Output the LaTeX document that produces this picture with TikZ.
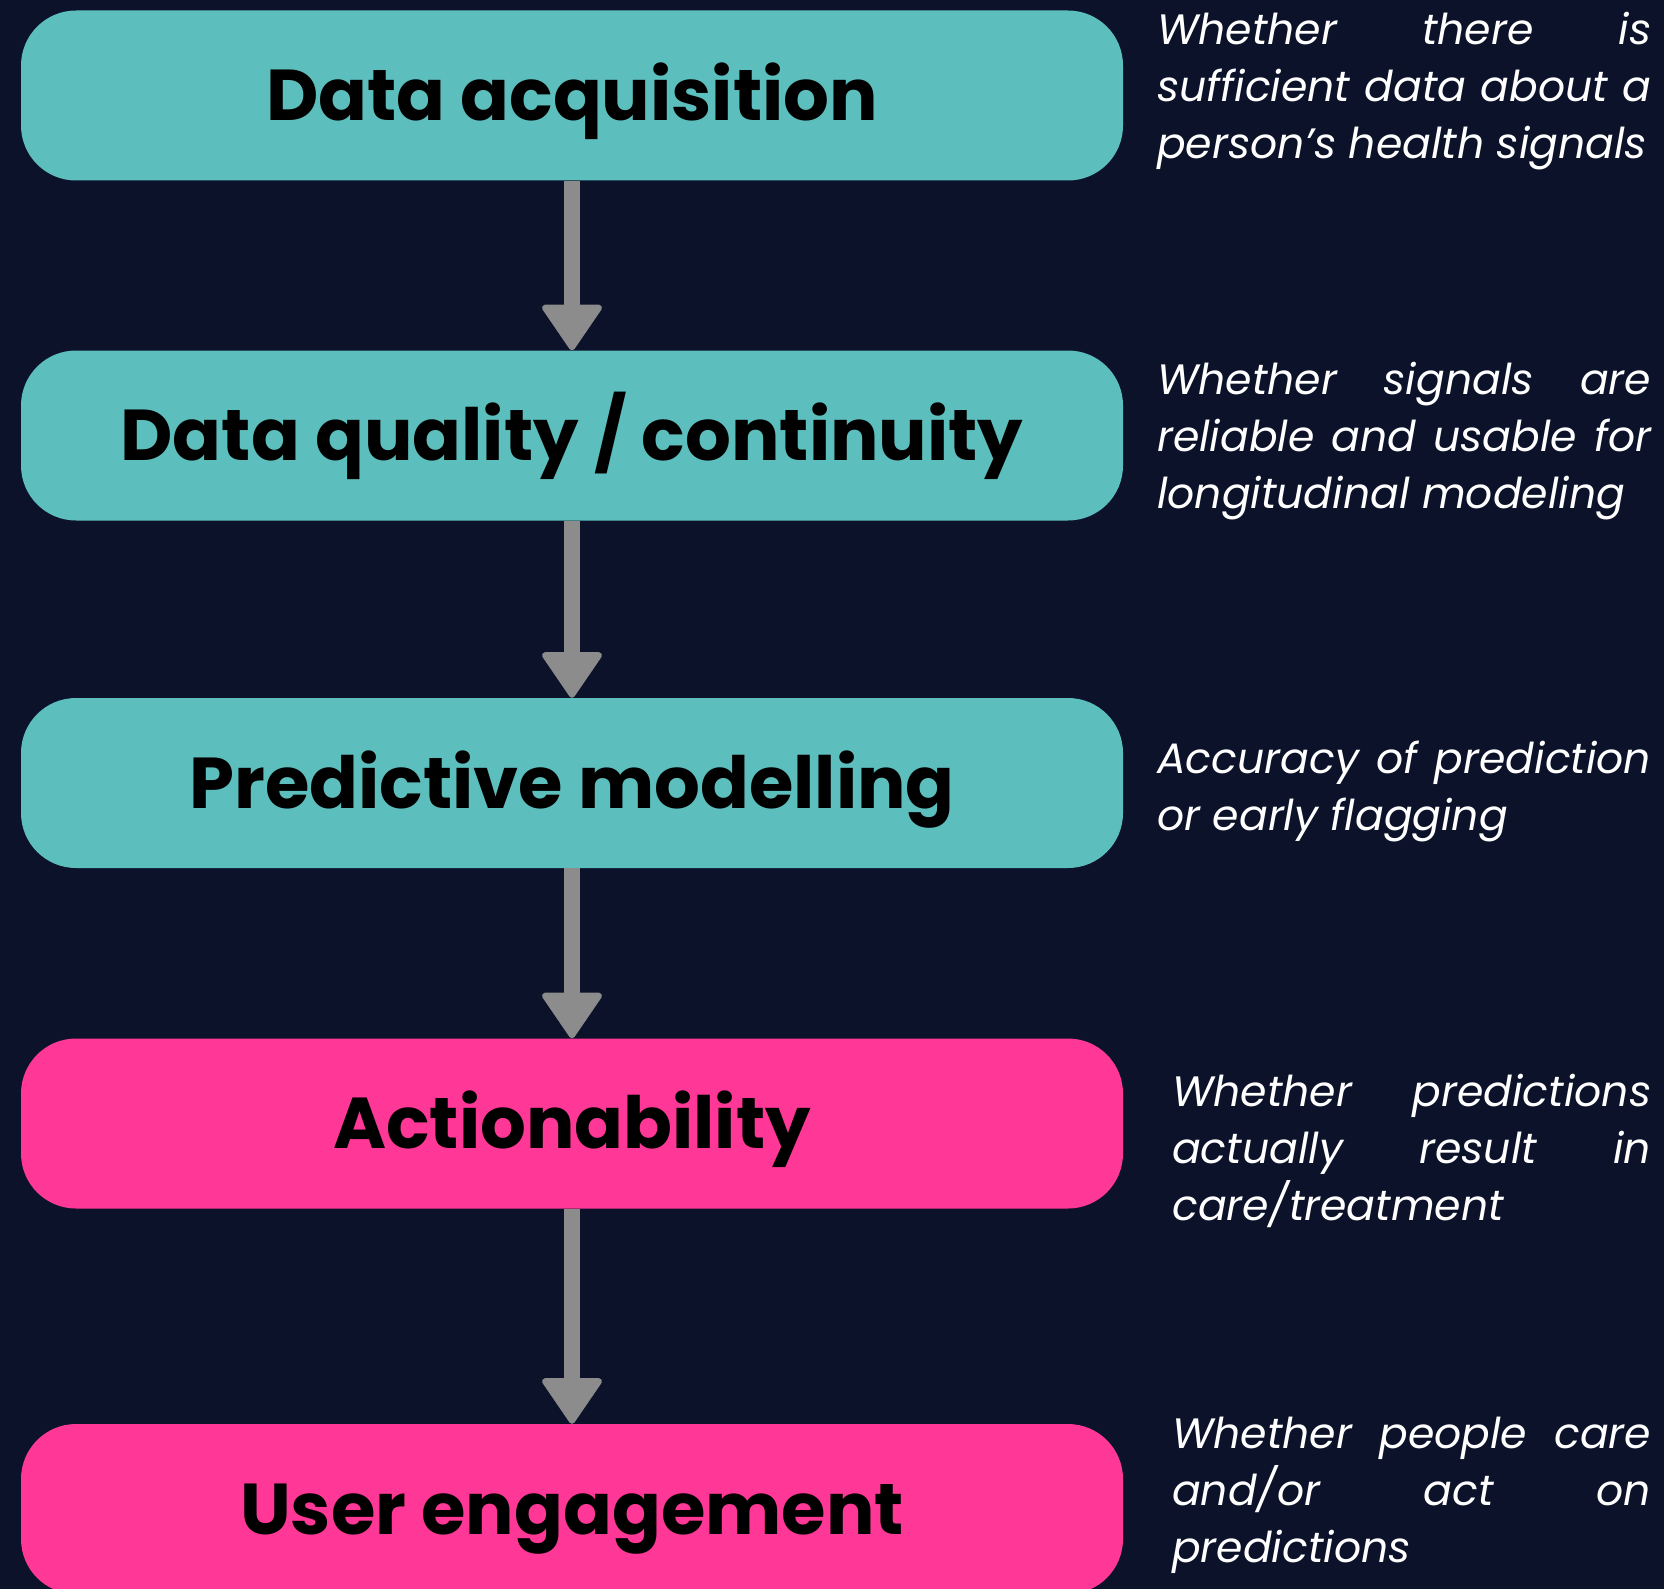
\documentclass[tikz,border=0pt]{standalone}
\usepackage{fontspec}
\setmainfont{Poppins}
\usetikzlibrary{arrows.meta}

\definecolor{navy}{HTML}{0B1229}
\definecolor{stageteal}{HTML}{5CBFBD}
\definecolor{stagepink}{HTML}{FF3797}
\definecolor{arrowgray}{HTML}{8C8C8C}

\tikzset{
  stage/.style={rounded corners=55pt, minimum width=1102pt, minimum height=170pt,
    inner sep=0pt, text height=50pt, text depth=0pt,
    font=\fontsize{72}{80}\selectfont\bfseries},
  note/.style={anchor=base west, inner sep=0pt, text=white, align=justify,
    font=\fontsize{42.5}{57}\selectfont\itshape},
  flow/.style={arrowgray, line width=16pt,
    -{Triangle[width=64pt, length=48pt, line width=6pt, round]}},
}

\begin{document}
\begin{tikzpicture}[x=1pt, y=-1pt]
    \useasboundingbox (0,0) rectangle (1664,1589);
    \fill[navy] (0,0) rectangle (1664,1589);

    \node[stage, fill=stageteal] (acq) at (572,95.5) {Data acquisition};
    \node[stage, fill=stageteal] (qual) at (572,435.5) {Data quality / continuity};
    \node[stage, fill=stageteal] (pred) at (572,783) {Predictive modelling};
    \node[stage, fill=stagepink] (act) at (572,1123.5) {Actionability};
    \node[stage, fill=stagepink] (eng) at (572,1509) {User engagement};

    \node[note, text width=494pt] (acqnote) at (1157,45)
        {Whether there is\linebreak sufficient data about a\linebreak person’s health signals};
    \node[note, text width=494pt] (qualnote) at (1157,394)
        {Whether signals are\linebreak reliable and usable for\linebreak longitudinal modeling};
    \node[note, text width=494pt] (prednote) at (1157,773)
        {Accuracy of prediction\linebreak or early flagging};
    \node[note, text width=479pt] (actnote) at (1172,1106)
        {Whether predictions\linebreak actually result in\linebreak care/treatment};
    \node[note, text width=479pt] (engnote) at (1172,1448)
        {Whether people care\linebreak and/or act on\linebreak predictions};

    \draw[flow] (acq) -- (qual);
    \draw[flow] (qual) -- (pred);
    \draw[flow] (pred) -- (act);
    \draw[flow] (act) -- (eng);
\end{tikzpicture}
\end{document}
